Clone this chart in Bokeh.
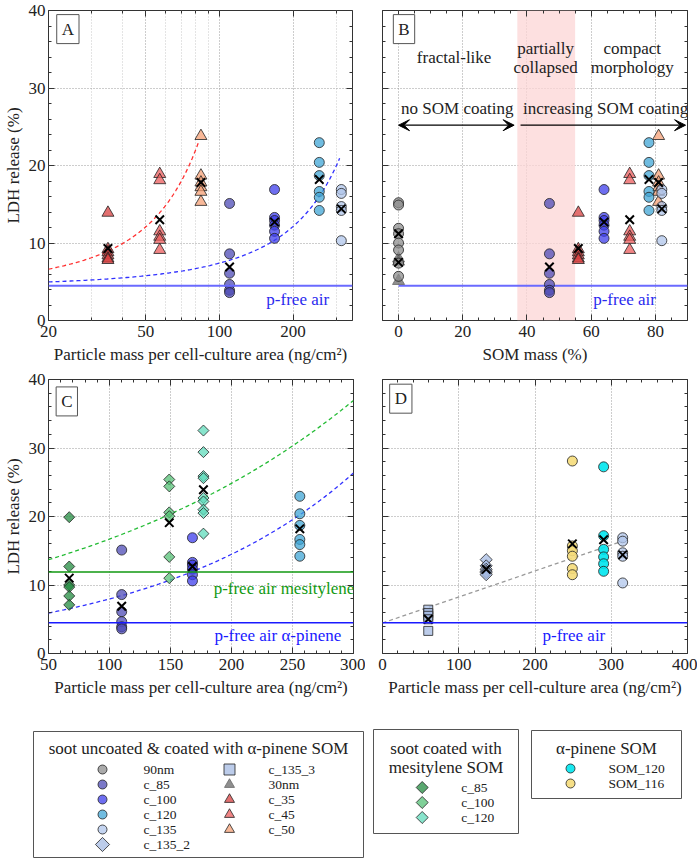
import numpy as np
from bokeh.plotting import figure
from bokeh.models import (Range1d, FixedTicker, LinearAxis, LogAxis, Label, BoxAnnotation,
                          Arrow, VeeHead, Span, NumeralTickFormatter, CustomJSTickFormatter)
from bokeh.layouts import column, row
from bokeh.embed import file_html
from bokeh.resources import INLINE
from bokeh.core.properties import value

FONT = "Liberation Serif"

# ------------------------------------------------------------------ data
# soot uncoated & coated with alpha-pinene SOM
tri_groups = ["c_35", "c_45", "c_50"]
tri_mass = [35, 57, 84]            # ng/cm2
tri_som = [56, 72, 81]             # SOM mass %
tri_ldh = [[13.9, 9.2, 8.8, 8.4, 8.0, 7.8],
           [18.9, 18.1, 11.5, 10.8, 10.4, 9.1],
           [23.8, 18.7, 17.8, 17.2, 16.6, 15.3]]
tri_mean = [9.3, 13.0, 17.8]

circ_groups = ["c_85", "c_100", "c_120", "c_135"]
circ_mass = [110, 168, 256, 315]
circ_som = [47, 64, 78, 82]
circ_ldh = [[15.1, 8.6, 6.1, 4.65, 3.9, 3.6],
            [16.9, 13.3, 12.9, 12.3, 11.5, 10.6],
            [22.95, 20.4, 18.7, 16.65, 15.9, 14.2],
            [16.9, 16.4, 14.7, 14.2, 10.3]]
circ_mean = [6.9, 12.7, 18.2, 14.4]

ldh_90nm = [15.2, 14.9, 11.9, 11.2, 10.0, 9.1, 7.4, 5.7]
mean_90nm = 11.2
ldh_30nm = [5.1, 7.6, 8.0]
mean_30nm = 7.5
som_uncoated = 0

# soot coated with mesitylene SOM
mes_groups = ["c_85", "c_100", "c_120"]
mes_mass = [67, 149, 177]
mes_ldh = [[19.9, 12.7, 10.0, 9.7, 8.4, 7.1],
           [25.4, 24.4, 20.6, 20.05, 14.1, 11.0],
           [32.55, 29.4, 25.9, 25.6, 22.7, 22.2, 21.0, 20.5, 17.5]]
mes_mean = [11.0, 19.1, 23.9]

# panel D
c1353_mass = 60
c1353_ldh = [6.4, 5.9, 5.5, 5.0, 3.3]
c1353_mean = 5.0
c1352_mass = 136
c1352_ldh = [13.7, 12.8, 12.3, 12.0, 11.8, 11.5]
c1352_mean = 12.3
som_groups = ["SOM_120", "SOM_116"]
som_only_mass = [290, 249]
som_only_ldh = [[27.25, 17.2, 15.2, 14.1, 13.1, 12.0],
                [28.1, 15.7, 15.0, 14.2, 12.4, 11.5]]
som_only_mean = [16.6, 16.0]

# particle-free air reference levels (%)
pfree_air = 4.5
pfree_air_mes = 11.9

# exponential fits  y = a * exp(b * x)  (a, b, x_start, x_end)
fitA_red = (4.45, 0.0200, 20, 82)
fitA_blue = (4.51, 0.00495, 20, 310)
fitC_green = (11.23, 0.00397, 50, 300)
fitC_blue = (4.38, 0.00598, 50, 300)
# linear fit in D  y = c0 + c1 * x
fitD_grey = (4.45, 0.038, 0, 315)

# ------------------------------------------------------------------ styles
col = {"90nm": "#8e8e8e", "c_85": "#4e4bb6", "c_100": "#3e3eeb", "c_120": "#40a6d6",
       "c_135": "#b0c6eb", "c_135_2": "#a6bbe3", "c_135_3": "#a6bbe3", "30nm": "#6a6a6a",
       "c_35": "#d84040", "c_45": "#ec5c5c", "c_50": "#f6a076"}
mes_col = {"c_85": "#238b40", "c_100": "#56c076", "c_120": "#60dbbb"}
som_col = {"SOM_120": "#00e5ee", "SOM_116": "#f5dc7a"}
ALPHA = 0.75
DIAMOND = np.pi / 4

YT = [0, 10, 20, 30, 40]
YT_MINOR = [2, 4, 6, 8, 12, 14, 16, 18, 22, 24, 26, 28, 32, 34, 36, 38]


def style_axis(ax, labels=True):
    ax.axis_line_color = None
    ax.major_tick_in = 6
    ax.major_tick_out = 0
    ax.minor_tick_in = 3
    ax.minor_tick_out = 0
    ax.major_tick_line_color = "#333"
    ax.minor_tick_line_color = "#333"
    ax.major_label_text_font = FONT
    ax.major_label_text_color = "#222"
    ax.major_label_standoff = 5
    ax.axis_label_text_font = FONT
    ax.axis_label_text_font_size = "17px"
    ax.axis_label_text_font_style = "normal"
    ax.axis_label_text_color = "#222"
    ax.axis_label_standoff = 5
    if labels:
        ax.major_label_text_font_size = "17px"
    else:
        ax.major_label_text_font_size = "0px"
        ax.formatter = CustomJSTickFormatter(code="return ''")


def make_panel(width, height, xr, borders, xticks, xminor, xlabel, ylabel, ylabels, log=False):
    l, r, t, b = borders
    p = figure(width=width, height=height, x_range=xr, y_range=Range1d(0, 40),
               x_axis_type="log" if log else "linear",
               toolbar_location=None, output_backend="svg",
               min_border_left=l, min_border_right=r, min_border_top=t, min_border_bottom=b)
    p.outline_line_color = "#333"
    p.outline_line_width = 1
    xt = FixedTicker(ticks=xticks, minor_ticks=xminor)
    yt = FixedTicker(ticks=YT, minor_ticks=YT_MINOR)
    p.xaxis.ticker = xt
    p.yaxis.ticker = yt
    p.xaxis.formatter = NumeralTickFormatter(format="0")
    p.xaxis.axis_label = xlabel
    if ylabel:
        p.yaxis.axis_label = ylabel
    style_axis(p.xaxis[0], True)
    style_axis(p.yaxis[0], ylabels)
    if ylabel:
        p.yaxis.major_label_standoff = 3
        p.yaxis.axis_label_standoff = 3
    top = (LogAxis if log else LinearAxis)(ticker=xt)
    right = LinearAxis(ticker=yt)
    style_axis(top, False)
    style_axis(right, False)
    p.add_layout(top, "above")
    p.add_layout(right, "right")
    p.grid.grid_line_color = "#9a9a9a"
    p.grid.grid_line_dash = "1 2"
    p.grid.grid_line_width = 1
    return p


def pts(p, x, ys, marker, color, size, alpha=ALPHA, angle=0.0, line_color="#222"):
    p.scatter(x=[x] * len(ys), y=ys, marker=marker, size=size, angle=angle,
              fill_color=color, fill_alpha=alpha, line_color=line_color, line_width=0.8)


def means(p, xs, ys):
    p.scatter(x=xs, y=ys, marker="x", size=12, line_color="black", line_width=2)


def exp_fit(p, fit, color, log=False):
    a, b, x0, x1 = fit
    xs = np.geomspace(x0, x1, 120) if log else np.linspace(x0, x1, 120)
    p.line(xs, a * np.exp(b * xs), line_color=color, line_dash="4 3", line_width=1.3)


def text(p, x, y, s, color="#222", size="17px", align="center"):
    p.add_layout(Label(x=x, y=y, text=s, text_font=FONT, text_font_size=size,
                       text_color=color, text_align=align, text_baseline="middle"))


def letter(p, x, y, s):
    p.add_layout(Label(x=x, y=y, text=s, text_font=FONT, text_font_size="17px",
                       text_color="#222", text_align="center", text_baseline="middle",
                       background_fill_color="white", border_line_color="#555",
                       border_line_width=1, padding=5))


XLAB = "Particle mass per cell-culture area (ng/cm²)"
YLAB = "LDH release (%)"

# row 1: y 0..370 ; row 2: y 370..703 ; legends: y 703..858
# ------------------------------------------------------------------ panel A
pA = make_panel(365, 370, Range1d(20, 350), (48, 13, 10, 50),
                [20, 50, 100, 200], [30, 40, 60, 70, 80, 90, 300], XLAB, YLAB, True, log=True)
pA.xgrid.minor_grid_line_color = "#c8c8c8"
pA.xgrid.minor_grid_line_dash = "1 2"
pA.add_layout(Span(location=pfree_air, dimension="width", line_color="#6a6aff", line_width=2))
exp_fit(pA, fitA_red, "#ff3030", log=True)
exp_fit(pA, fitA_blue, "#3030ff", log=True)
for g, m, ys in zip(tri_groups, tri_mass, tri_ldh):
    pts(pA, m, ys, "triangle", col[g], 12)
for g, m, ys in zip(circ_groups, circ_mass, circ_ldh):
    pts(pA, m, ys, "circle", col[g], 10)
means(pA, tri_mass + circ_mass, tri_mean + circ_mean)
text(pA, 209, 2.7, "p-free air", color="#2a2aee")
letter(pA, 24, 37.6, "A")

# ------------------------------------------------------------------ panel B
pB = make_panel(332, 370, Range1d(-5, 90), (17, 10, 10, 50),
                [0, 20, 40, 60, 80], [-5, 5, 10, 15, 25, 30, 35, 45, 50, 55, 65, 70, 75, 85, 90],
                "SOM mass (%)", None, False)
pB.add_layout(BoxAnnotation(left=37, right=55, fill_color="#fcd6d6", fill_alpha=0.75,
                            line_color=None, level="underlay"))
pB.line([som_uncoated, 90], [pfree_air, pfree_air], line_color="#6a6aff", line_width=2)
pts(pB, som_uncoated, ldh_30nm, "triangle", col["30nm"], 12, line_color="#666")
pts(pB, som_uncoated, ldh_90nm, "circle", col["90nm"], 10)
for g, m, ys in zip(tri_groups, tri_som, tri_ldh):
    pts(pB, m, ys, "triangle", col[g], 12)
for g, m, ys in zip(circ_groups, circ_som, circ_ldh):
    pts(pB, m, ys, "circle", col[g], 10)
means(pB, [som_uncoated, som_uncoated] + tri_som + circ_som,
      [mean_90nm, mean_30nm] + tri_mean + circ_mean)
text(pB, 17.3, 34.0, "fractal-like")
text(pB, 45.8, 35.1, "partially")
text(pB, 45.8, 32.7, "collapsed")
text(pB, 72.8, 35.1, "compact")
text(pB, 72.8, 32.7, "morphology")
text(pB, 18.3, 27.4, "no SOM coating")
text(pB, 64.5, 27.4, "increasing SOM coating")
pB.add_layout(Arrow(start=VeeHead(size=11, fill_color="black", line_color="black"),
                    end=VeeHead(size=11, fill_color="black", line_color="black"),
                    x_start=0, y_start=25.2, x_end=36, y_end=25.2,
                    line_color="black", line_width=1.3))
pB.add_layout(Arrow(end=VeeHead(size=11, fill_color="black", line_color="black"),
                    x_start=38, y_start=25.2, x_end=89.4, y_end=25.2,
                    line_color="black", line_width=1.3))
text(pB, 70.4, 2.7, "p-free air", color="#2a2aee")
letter(pB, 1.7, 37.6, "B")

# ------------------------------------------------------------------ panel C
pC = make_panel(365, 333, Range1d(50, 300), (48, 12, 9, 50),
                [50, 100, 150, 200, 250, 300],
                [60, 70, 80, 90, 110, 120, 130, 140, 160, 170, 180, 190, 210, 220, 230, 240,
                 260, 270, 280, 290], XLAB, YLAB, True)
pC.add_layout(Span(location=pfree_air_mes, dimension="width", line_color="#119911", line_width=1.4))
pC.add_layout(Span(location=pfree_air, dimension="width", line_color="#1a1aff", line_width=1.4))
exp_fit(pC, fitC_green, "#22bb33")
exp_fit(pC, fitC_blue, "#3030ff")
for g, m, ys in zip(mes_groups, mes_mass, mes_ldh):
    pts(pC, m, ys, "square", mes_col[g], 7.8, angle=DIAMOND)
for g, m, ys in zip(circ_groups[:3], circ_mass[:3], circ_ldh[:3]):
    pts(pC, m, ys, "circle", col[g], 10)
means(pC, mes_mass + circ_mass[:3], mes_mean + circ_mean[:3])
text(pC, 243, 9.5, "p-free air mesitylene", color="#119911")
text(pC, 238, 2.6, "p-free air α-pinene", color="#1a1aff")
letter(pC, 65, 36.8, "C")

# ------------------------------------------------------------------ panel D
pD = make_panel(332, 333, Range1d(0, 400), (17, 10, 9, 50),
                [0, 100, 200, 300, 400],
                [20, 40, 60, 80, 120, 140, 160, 180, 220, 240, 260, 280, 320, 340, 360, 380],
                XLAB, None, False)
pD.add_layout(Span(location=pfree_air, dimension="width", line_color="#1a1aff", line_width=1.4))
c0, c1, x0, x1 = fitD_grey
pD.line([x0, x1], [c0 + c1 * x0, c0 + c1 * x1], line_color="#999999", line_dash="4 3", line_width=1.3)
pts(pD, c1353_mass, c1353_ldh, "square", col["c_135_3"], 9)
pts(pD, c1352_mass, c1352_ldh, "square", col["c_135_2"], 8.5, angle=DIAMOND)
for g, m, ys in zip(som_groups, som_only_mass, som_only_ldh):
    pts(pD, m, ys, "circle", som_col[g], 10, alpha=0.9)
pts(pD, circ_mass[3], circ_ldh[3], "circle", col["c_135"], 10)
means(pD, [c1353_mass, c1352_mass] + som_only_mass + [circ_mass[3]],
      [c1353_mean, c1352_mean] + som_only_mean + [circ_mean[3]])
text(pD, 251, 2.6, "p-free air", color="#1a1aff")
letter(pD, 24, 37.2, "D")

# ------------------------------------------------------------------ legends
leg = figure(width=700, height=155, x_range=Range1d(0, 700), y_range=Range1d(858, 703),
             toolbar_location=None, output_backend="svg", x_axis_location=None,
             y_axis_location=None, min_border=0)
leg.grid.visible = False
leg.outline_line_color = None
leg.quad(left=[33, 373, 531], right=[363, 518, 681], top=[731, 729, 730], bottom=[857, 833, 798],
         fill_color="white", line_color="#555", line_width=1)


def ltext(x, y, s, size="17px", align="center"):
    leg.text(x=[x], y=[y], text=[s], text_font=value(FONT), text_font_size=size,
             text_align=align, text_baseline="middle", text_color="#222")


ltext(198, 748, "soot uncoated & coated with α-pinene SOM")
rows_y = [769, 784, 799, 814, 829, 844]
col1 = [("90nm", "circle", 9, 0.0), ("c_85", "circle", 9, 0.0), ("c_100", "circle", 9, 0.0),
        ("c_120", "circle", 9, 0.0), ("c_135", "circle", 9, 0.0), ("c_135_2", "square", 10, DIAMOND)]
col2 = [("c_135_3", "square", 11, 0.0), ("30nm", "triangle", 10, 0.0), ("c_35", "triangle", 10, 0.0),
        ("c_45", "triangle", 10, 0.0), ("c_50", "triangle", 10, 0.0)]
for (name, mk, sz, ang), yy in zip(col1, rows_y):
    leg.scatter(x=[102], y=[yy], marker=mk, size=sz, angle=ang, fill_color=col[name],
                fill_alpha=ALPHA, line_color="#222", line_width=0.8)
    ltext(143, yy, name, size="13.5px", align="left")
for (name, mk, sz, ang), yy in zip(col2, rows_y):
    leg.scatter(x=[229], y=[yy], marker=mk, size=sz, angle=ang, fill_color=col[name],
                fill_alpha=ALPHA, line_color="#666" if name == "30nm" else "#222", line_width=0.8)
    ltext(268, yy, name, size="13.5px", align="left")

ltext(445.5, 748, "soot coated with")
ltext(445.5, 767, "mesitylene SOM")
for name, yy in zip(mes_groups, [787, 802, 817]):
    leg.scatter(x=[421.7], y=[yy], marker="square", size=8.5, angle=DIAMOND, fill_color=mes_col[name],
                fill_alpha=ALPHA, line_color="#222", line_width=0.8)
    ltext(460.7, yy, name, size="13.5px", align="left")

ltext(606, 748, "α-pinene SOM")
for name, yy in zip(som_groups, [768, 783]):
    leg.scatter(x=[570], y=[yy], marker="circle", size=9, fill_color=som_col[name],
                fill_alpha=0.9, line_color="#222", line_width=0.8)
    ltext(608, yy, name, size="13.5px", align="left")

layout = column(row(pA, pB), row(pC, pD), leg)
open("out.html", "w").write(file_html(layout, INLINE))
